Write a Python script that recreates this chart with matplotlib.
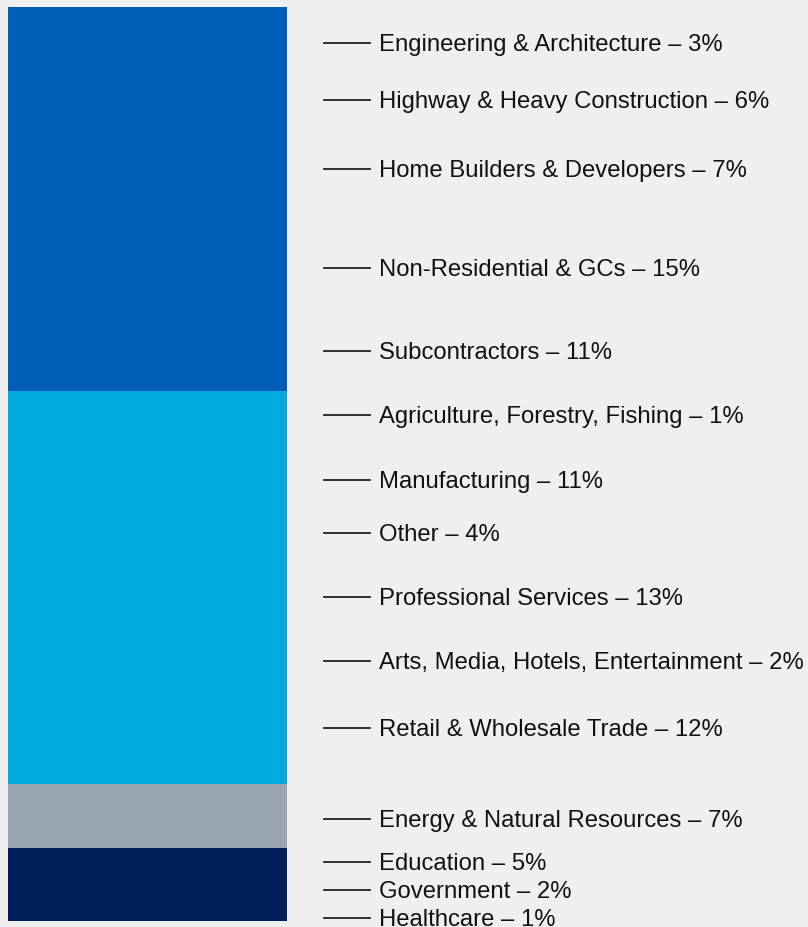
import matplotlib.pyplot as plt

# group totals (stacked bar, top to bottom)
groups = ["Construction", "Commercial", "Energy", "Public"]
group_pct = [42, 43, 7, 8]
group_colors = ["#005EB8", "#00A9E0", "#99A7B1", "#001F5B"]

# sector labels on the right
sectors = ["Engineering & Architecture", "Highway & Heavy Construction",
           "Home Builders & Developers", "Non-Residential & GCs", "Subcontractors",
           "Agriculture, Forestry, Fishing", "Manufacturing", "Other",
           "Professional Services", "Arts, Media, Hotels, Entertainment",
           "Retail & Wholesale Trade", "Energy & Natural Resources",
           "Education", "Government", "Healthcare"]
sector_pct = [3, 6, 7, 15, 11, 1, 11, 4, 13, 2, 12, 7, 5, 2, 1]
# where each label sits along the bar (percent from top)
label_pos = [3.91, 10.18, 17.72, 28.58, 37.64, 44.64, 51.78, 57.58,
             64.58, 71.53, 78.88, 88.84, 93.54, 96.61, 99.67]

plt.rcParams['font.family'] = ['Liberation Sans', 'DejaVu Sans']

fig = plt.figure(figsize=(8.08, 9.27), dpi=100, facecolor="#EFEFEF")
ax = fig.add_axes([8/808, 6/927, 279/808, 914/927])
ax.set_facecolor("#EFEFEF")

bottom = 0
for g, v, c in zip(groups, group_pct, group_colors):
    ax.bar(0, v, bottom=bottom, width=1, color=c, align="edge", label=g)
    bottom += v

ax.set_xlim(0, 1)
ax.set_ylim(100, 0)
ax.axis("off")

tr = ax.get_yaxis_transform()
x0 = (324 - 8) / 279
x1 = (370 - 8) / 279
for name, p, y in zip(sectors, sector_pct, label_pos):
    ax.plot([x0, x1], [y, y], color="#222222", lw=1.3, transform=tr, clip_on=False)
    ax.annotate(f"{name} \u2013 {p}%", xy=(x1, y), xycoords=tr,
                xytext=(9, -2), textcoords="offset pixels",
                va="center", ha="left", fontsize=17.2, color="#111111",
                annotation_clip=False)

fig.savefig("out.png", dpi=100, facecolor=fig.get_facecolor())
